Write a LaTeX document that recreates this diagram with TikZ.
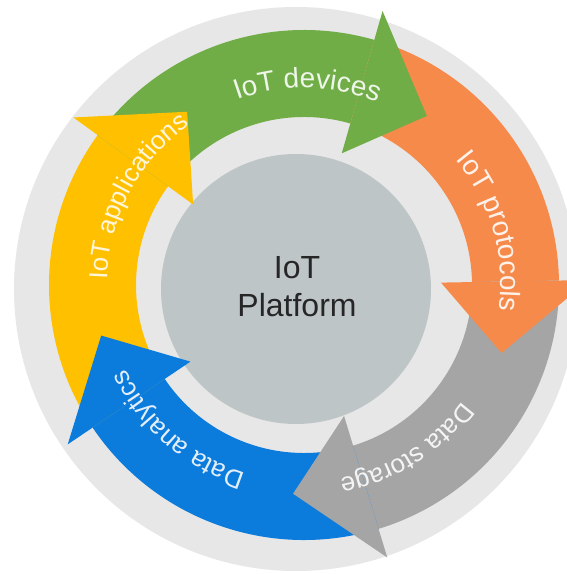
\documentclass[tikz,border=0pt]{standalone}
\usepackage{fontspec}
\setmainfont{Liberation Sans}
\usetikzlibrary{decorations.text,calc}
\definecolor{ringgray}{HTML}{E7E7E7}
\definecolor{hubgray}{HTML}{BEC5C7}
\definecolor{cgreen}{HTML}{70AD47}
\definecolor{corange}{HTML}{F68A4B}
\definecolor{cgray}{HTML}{A5A5A5}
\definecolor{cblue}{HTML}{0B7BDC}
\definecolor{cyellow}{HTML}{FFC000}
\newcommand\cycbody[3]{%
  \fill[#3] ($(C)+(#1:255)$) arc[start angle=#1, end angle=#2, radius=255]
    -- ($(C)+(#2:168)$) arc[start angle=#2, end angle=#1, radius=168] -- cycle;}
\newcommand\cychead[2]{%
  \fill[#2] ($(C)+(#1:137)$) -- ($(C)+(#1:285)$) -- ($(C)+({#1-20}:209)$) -- cycle;}
\newcommand\cyctext[4]{%
  \path[decorate, decoration={text along path, text align=center, text color=#3,
     text={|\fontsize{#4}{30}\selectfont|#2}}]
     ($(C)+({#1+55}:197)$) arc[start angle={#1+55}, end angle={#1-55}, radius=197];}
\begin{document}
\begin{tikzpicture}[x=1pt,y=1pt]
\useasboundingbox (0,0) rectangle (567,574);
\clip (0,0) rectangle (567,574);
\fill[white] (0,0) rectangle (567,574);
\fill[ringgray] (296,285) circle[radius=282];
\node[circle, fill=hubgray, minimum size=270pt, inner sep=0pt] (hub) at (296,285) {};
\coordinate (C) at (304,289);
% bodies
\cycbody{214}{144}{cyellow}
\cycbody{144}{74}{cgreen}
\cycbody{74}{1}{corange}
\cycbody{1}{-73}{cgray}
\cycbody{-73}{-146}{cblue}
% heads
\cychead{144}{cyellow}
\cychead{74}{cgreen}
\cychead{1}{corange}
\cychead{-73}{cgray}
\cychead{-146}{cblue}
% labels
\cyctext{89}{IoT devices}{white!88!cgreen}{28}
\cyctext{16}{IoT protocols}{white!88!corange}{28}
\cyctext{-58}{Data storage}{white!88!cgray}{26}
\cyctext{229}{Data analytics}{white!88!cblue}{26}
\cyctext{152}{IoT applications}{white!85!cyellow}{26}
\node[font=\fontsize{32}{38}\selectfont, text=black!85, align=center] (label) at (297,287) {IoT\\Platform};
\end{tikzpicture}
\end{document}
